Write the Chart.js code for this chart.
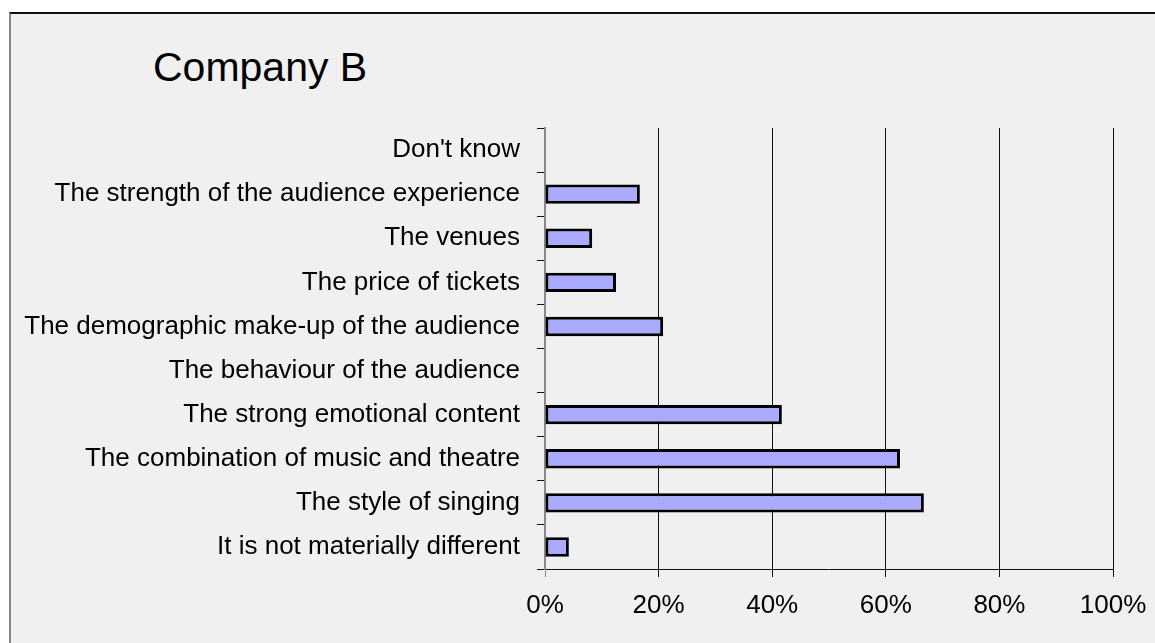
<!DOCTYPE html>
<html>
<head>
<meta charset="utf-8">
<script src="https://cdn.jsdelivr.net/npm/chart.js@4.4.1/dist/chart.umd.min.js"></script>
<style>
  html, body { margin: 0; padding: 0; background: #fff; overflow: hidden; }
  #frame {
    position: absolute; left: 9px; top: 12px; width: 1200px; height: 700px;
    background: #f0f0f0; border-top: 2px solid #111; border-left: 2px solid #888;
  }
  #title {
    position: absolute; left: 153px; top: 47px; margin: 0; font-weight: normal;
    font: 41px/41px "Liberation Sans", Arial, sans-serif; color: #000;
  }
  #wrap { position: absolute; left: 0; top: 0; width: 1155px; height: 643px; }
</style>
</head>
<body>
<div id="frame"></div>
<h1 id="title">Company B</h1>
<div id="wrap"><canvas id="js_companyChart"></canvas></div>
<script>
const categories = [
  "Don't know",
  'The strength of the audience experience',
  'The venues',
  'The price of tickets',
  'The demographic make-up of the audience',
  'The behaviour of the audience',
  'The strong emotional content',
  'The combination of music and theatre',
  'The style of singing',
  'It is not materially different',
];

const shares = [0, 16.7, 8.3, 12.5, 20.8, 0, 41.7, 62.5, 66.7, 4.2];

const tickValues = [0, 20, 40, 60, 80, 100];

const labelFont = { family: "'Liberation Sans', Arial, sans-serif", size: 26 };

document.addEventListener('DOMContentLoaded', () => {
  const ctx = document.getElementById('js_companyChart');

  new Chart(ctx, {
    type: 'bar',
    data: {
      labels: categories,
      datasets: [{
        data: shares,
        backgroundColor: '#aaaaff',
        borderColor: '#000',
        borderWidth: 3,
        borderSkipped: false,
        barPercentage: 0.44,
        categoryPercentage: 1,
      }],
    },
    options: {
      indexAxis: 'y',
      responsive: true,
      maintainAspectRatio: false,
      animation: false,
      layout: { padding: { top: 128, right: 42, bottom: 0, left: 0 } },
      plugins: {
        legend: { display: false },
        tooltip: { enabled: false },
      },
      scales: {
        x: {
          min: 0,
          max: 100,
          afterBuildTicks: (axis) => {
            axis.ticks = tickValues.map((v) => ({ value: v }));
          },
          afterFit: (axis) => {
            axis.height = 74;
            axis.paddingRight = 0;
            axis.paddingLeft = 0;
          },
          ticks: {
            color: '#000',
            font: labelFont,
            padding: 13,
            maxRotation: 0,
            callback: (v) => v + '%',
          },
          grid: {
            color: (c) => (c.index === 0 ? '#888' : '#111'),
            lineWidth: 1,
            tickLength: 8,
            drawOnChartArea: true,
          },
          border: { color: '#111', width: 1 },
        },
        y: {
          afterFit: (axis) => { axis.width = 545; },
          ticks: {
            color: '#000',
            font: labelFont,
            padding: 17,
            autoSkip: false,
          },
          grid: {
            color: '#111',
            lineWidth: 1,
            tickLength: 8,
            drawOnChartArea: false,
            offset: true,
          },
          border: { color: '#888', width: 2 },
        },
      },
    },
  });
});
</script>
</body>
</html>
